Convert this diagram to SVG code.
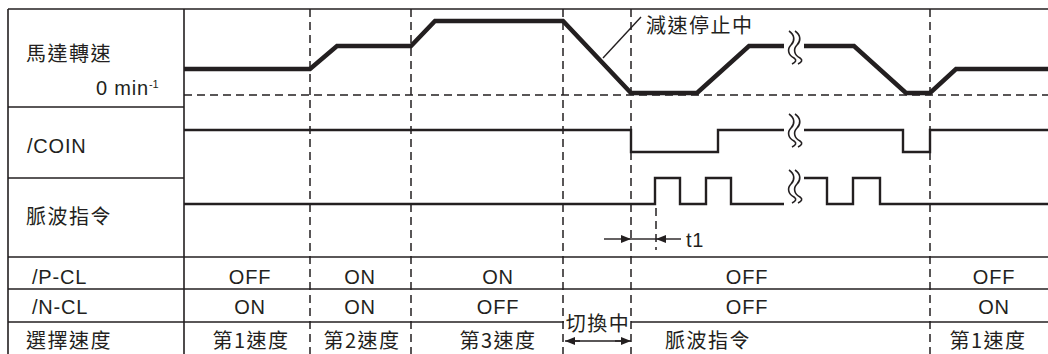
<svg xmlns="http://www.w3.org/2000/svg" width="1048" height="354" viewBox="0 0 1048 354">
<style>
.bg{fill:#ffffff}
.grid{stroke:#231f20;stroke-width:1.6;fill:none}
.dash{stroke:#231f20;stroke-width:1.5;stroke-dasharray:8 5;fill:none}
.spd{stroke:#231f20;stroke-width:4.5;fill:none;stroke-linejoin:miter}
.sig{stroke:#231f20;stroke-width:2.4;fill:none}
.thin{stroke:#231f20;stroke-width:1.4;fill:none}
.cjk{font-family:"Noto Sans CJK TC","Noto Sans CJK JP",sans-serif;font-size:20px;letter-spacing:1.5px;fill:#231f20}
.lat{font-family:"Liberation Sans",Arial,sans-serif;font-size:20px;letter-spacing:0.8px;fill:#231f20}
.mid{text-anchor:middle}
.sq{stroke:#231f20;stroke-width:1.6;fill:none}
</style>
<defs>
<marker id="ah" viewBox="0 0 10 10" refX="10" refY="5" markerWidth="10" markerHeight="10" markerUnits="userSpaceOnUse" orient="auto">
<path d="M0,1 L10,5 L0,9 Z" fill="#231f20"/>
</marker>
<g id="squig">
<rect x="-9" y="-17" width="18" height="34" fill="#ffffff"/>
<path class="sq" d="M-6,-16 C0,-12 0,-6 -4,-2 C-8,2 -7,8 -1,11 C2,13 1,15 -3,17"/>
<path class="sq" d="M0,-16 C6,-12 6,-6 2,-2 C-2,2 -1,8 5,11 C8,13 7,15 3,17"/>
</g>
</defs>
<rect class="bg" x="0" y="0" width="1048" height="354"/>

<g id="table">
<line class="grid" x1="8" y1="9" x2="1048" y2="9"/>
<line class="grid" x1="8" y1="9" x2="8" y2="354"/>
<line class="grid" x1="184" y1="9" x2="184" y2="354"/>
<line class="grid" x1="8" y1="107" x2="184" y2="107"/>
<line class="grid" x1="8" y1="178" x2="184" y2="178"/>
<line class="grid" x1="8" y1="257" x2="1048" y2="257"/>
<line class="grid" x1="8" y1="289" x2="1048" y2="289"/>
<line class="grid" x1="8" y1="322" x2="564" y2="322"/>
<line class="grid" x1="631" y1="322" x2="1048" y2="322"/>
</g>

<g id="timing-dividers">
<line class="dash" x1="310" y1="9" x2="310" y2="354"/>
<line class="dash" x1="411" y1="9" x2="411" y2="354"/>
<line class="dash" x1="563" y1="9" x2="563" y2="354"/>
<line class="dash" x1="631" y1="9" x2="631" y2="354"/>
<line class="dash" x1="930" y1="9" x2="930" y2="354"/>
<line class="dash" x1="184" y1="95" x2="1048" y2="95"/>
<line class="dash" x1="656" y1="208" x2="656" y2="250"/>
</g>

<g id="row-speed">
<text class="cjk" x="26" y="61">馬達轉速</text>
<text class="lat" x="96" y="95" font-size="17" letter-spacing="1.2">0 min<tspan font-size="11" dy="-7" letter-spacing="0">-1</tspan></text>
<path class="spd" d="M184,69 L310,69 L337,46 L411,46 L435,21 L563,21 L631,93 L697,93 L749,46 L784,46"/>
<path class="spd" d="M802,46 L854,46 L906,93 L930,93 L956,69 L1048,69"/>
<use href="#squig" x="795" y="47"/>
</g>

<g id="row-coin">
<text class="lat" x="27" y="153">/COIN</text>
<path class="sig" d="M184,130 L631,130 L631,152 L718,152 L718,130 L784,130"/>
<path class="sig" d="M802,130 L903,130 L903,152 L930,152 L930,130 L1048,130"/>
<use href="#squig" x="795" y="130"/>
</g>

<g id="row-pulse">
<text class="cjk" x="26" y="224">脈波指令</text>
<path class="sig" d="M184,204 L655,204 L655,178 L680,178 L680,204 L706,204 L706,178 L731,178 L731,204 L784,204"/>
<path class="sig" d="M802,178 L827,178 L827,204 L853,204 L853,178 L880,178 L880,204 L1048,204"/>
<use href="#squig" x="795" y="186"/>
<text class="lat" x="686" y="247" font-size="18">t1</text>
</g>

<g id="row-pcl">
<text class="lat" x="32" y="284">/P-CL</text>
<text class="lat mid" x="250" y="284">OFF</text>
<text class="lat mid" x="360" y="284">ON</text>
<text class="lat mid" x="498" y="284">ON</text>
<text class="lat mid" x="747" y="284">OFF</text>
<text class="lat mid" x="994" y="284">OFF</text>
</g>

<g id="row-ncl">
<text class="lat" x="32" y="314">/N-CL</text>
<text class="lat mid" x="250" y="314">ON</text>
<text class="lat mid" x="360" y="314">ON</text>
<text class="lat mid" x="498" y="314">OFF</text>
<text class="lat mid" x="747" y="314">OFF</text>
<text class="lat mid" x="994" y="314">ON</text>
</g>

<g id="row-select">
<text class="cjk" x="26" y="348">選擇速度</text>
<text class="cjk mid" x="251" y="348">第1速度</text>
<text class="cjk mid" x="362" y="348">第2速度</text>
<text class="cjk mid" x="498" y="348">第3速度</text>
<text class="cjk mid" x="598" y="331">切換中</text>
<text class="cjk mid" x="708" y="348">脈波指令</text>
<text class="cjk mid" x="988" y="348">第1速度</text>
</g>

<g id="annotation">
<text class="cjk" x="646" y="33">減速停止中</text>
</g>

<g id="connectors">
<line class="thin" x1="603" y1="58" x2="641" y2="17"/>
<line class="thin" x1="604" y1="239" x2="631" y2="239" marker-end="url(#ah)"/>
<line class="thin" x1="631" y1="239" x2="656" y2="239"/>
<line class="thin" x1="681" y1="239" x2="656" y2="239" marker-end="url(#ah)"/>
<line class="thin" x1="575" y1="341" x2="621" y2="341"/>
<line class="thin" x1="580" y1="341" x2="565" y2="341" marker-end="url(#ah)"/>
<line class="thin" x1="615" y1="341" x2="631" y2="341" marker-end="url(#ah)"/>
</g>
</svg>
